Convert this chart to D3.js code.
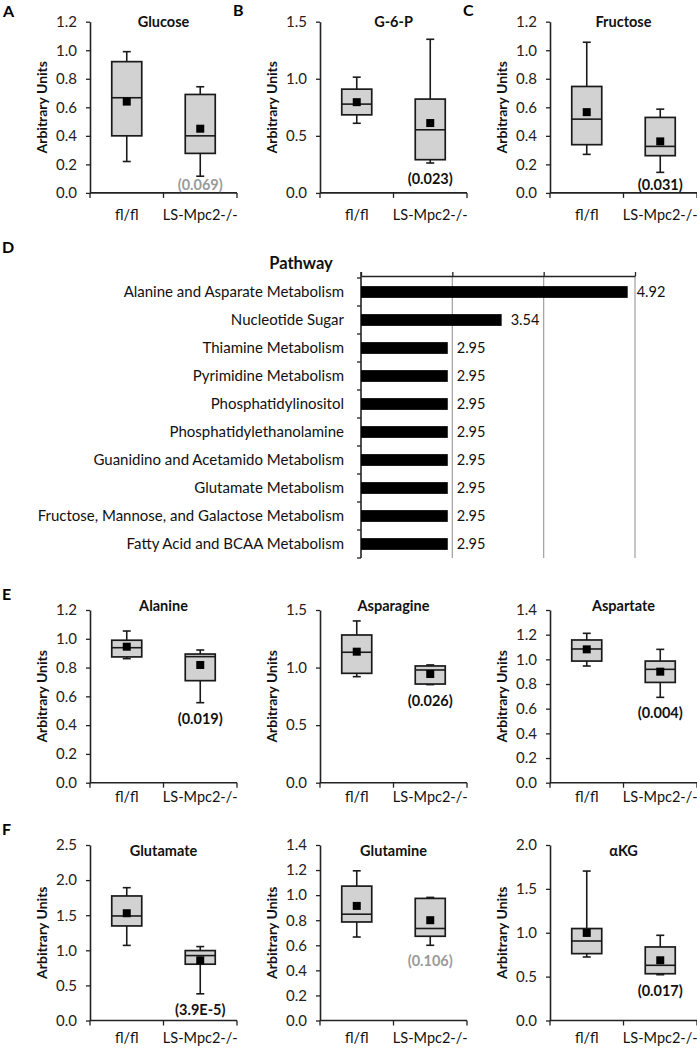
<!DOCTYPE html>
<html>
<head>
<meta charset="utf-8">
<script src="https://cdn.jsdelivr.net/npm/d3@7/dist/d3.min.js"></script>
<style>
  html, body { margin: 0; padding: 0; background: #fff; }
  svg { display: block; font-family: Lato, "Open Sans", sans-serif; }
</style>
</head>
<body>
<svg id="chart" width="697" height="1050"></svg>
<script>
// ---------- DATA ----------
const groups = ["fl/fl", "LS-Mpc2-/-"];
const metabolites = ["Glucose", "G-6-P", "Fructose", "Alanine", "Asparagine", "Aspartate", "Glutamate", "Glutamine", "\u03B1KG"];
const yMaxes = [1.2, 1.5, 1.2, 1.2, 1.5, 1.4, 2.5, 1.4, 2.0];
const ySteps = [0.2, 0.5, 0.2, 0.2, 0.5, 0.2, 0.5, 0.2, 0.5];

// fl/fl box statistics
const flLow    = [0.22, 0.61, 0.27, 0.862, 0.921, 0.946, 1.07, 0.666, 0.724];
const flQ1     = [0.40, 0.684, 0.338, 0.874, 0.95, 0.986, 1.347, 0.786, 0.762];
const flMedian = [0.667, 0.778, 0.517, 0.938, 1.133, 1.084, 1.489, 0.848, 0.906];
const flQ3     = [0.92, 0.909, 0.746, 0.99, 1.283, 1.157, 1.774, 1.072, 1.048];
const flHigh   = [0.99, 1.014, 1.056, 1.054, 1.405, 1.211, 1.892, 1.194, 1.703];
const flMean   = [0.64, 0.795, 0.566, 0.945, 1.138, 1.081, 1.528, 0.914, 0.998];

// LS-Mpc2-/- box statistics
const lsLow    = [0.117, 0.262, 0.144, 0.556, 0.852, 0.692, 0.38, 0.60, 0.522];
const lsQ1     = [0.277, 0.291, 0.261, 0.709, 0.857, 0.813, 0.802, 0.672, 0.533];
const lsMedian = [0.40, 0.553, 0.326, 0.876, 0.979, 0.919, 0.925, 0.734, 0.629];
const lsQ3     = [0.69, 0.822, 0.529, 0.894, 1.014, 0.986, 0.996, 0.974, 0.838];
const lsHigh   = [0.744, 1.346, 0.587, 0.922, 1.023, 1.081, 1.053, 0.982, 0.971];
const lsMean   = [0.45, 0.612, 0.361, 0.818, 0.944, 0.90, 0.857, 0.80, 0.686];

const pLabels = ["(0.069)", "(0.023)", "(0.031)", "(0.019)", "(0.026)", "(0.004)", "(3.9E-5)", "(0.106)", "(0.017)"];
const pSignificant = [false, true, true, true, true, true, true, false, true];

const panelLetters = ["A", "B", "C", "D", "E", "F"];

const pathways = [
  "Alanine and Asparate Metabolism",
  "Nucleotide Sugar",
  "Thiamine Metabolism",
  "Pyrimidine Metabolism",
  "Phosphatidylinositol",
  "Phosphatidylethanolamine",
  "Guanidino and Acetamido Metabolism",
  "Glutamate Metabolism",
  "Fructose, Mannose, and Galactose Metabolism",
  "Fatty Acid and BCAA Metabolism"
];
const pathwayScores = [4.92, 3.54, 2.95, 2.95, 2.95, 2.95, 2.95, 2.95, 2.95, 2.95];
const pathwayTicks = [2, 3, 4, 5];

// ---------- LAYOUT ----------
const svg = d3.select("#chart");
const textColor = "#111";
const colOffsets = [0, 230, 460];
const rowTop = [21.7, 610, 845];
const rowBottom = [192.9, 782.7, 1020.5];
const titleDy = [5, 1, 11];
const catLabelDy = [27, 19, 22];

metabolites.forEach((name, i) => {
  const col = i % 3, row = Math.floor(i / 3);
  const ox = colOffsets[col];
  const g = svg.append("g");
  const x = d3.scaleBand().domain(groups).range([ox + 90, ox + 237]);
  const y = d3.scaleLinear().domain([0, yMaxes[i]]).range([rowBottom[row], rowTop[row]]);
  const ticks = d3.range(0, yMaxes[i] + 1e-9, ySteps[i]);

  // y axis
  const ya = g.append("g").attr("transform", `translate(${ox + 90},0)`)
    .call(d3.axisLeft(y).tickValues(ticks).tickFormat(d3.format(".1f")).tickSize(4).tickPadding(9).tickSizeOuter(0));
  ya.select(".domain").attr("stroke", "#222").attr("stroke-width", 1.6);
  ya.selectAll(".tick line").attr("stroke", "#222").attr("stroke-width", 1.3);
  ya.selectAll(".tick text").attr("font-size", 15).attr("fill", "#222").attr("font-family", "Lato");

  // x axis
  const xb = rowBottom[row];
  g.append("line").attr("x1", x.range()[0]).attr("x2", x.range()[1]).attr("y1", xb).attr("y2", xb)
    .attr("stroke", "#222").attr("stroke-width", 1.6);
  const boundaries = [x.range()[0], x(groups[1]), x.range()[1]];
  g.selectAll(".xt").data(boundaries).join("line")
    .attr("x1", d => d).attr("x2", d => d).attr("y1", xb).attr("y2", xb + 5)
    .attr("stroke", "#222").attr("stroke-width", 1.3);
  g.selectAll(".xl").data(groups).join("text")
    .attr("x", d => x(d) + x.bandwidth() / 2).attr("y", xb + catLabelDy[row])
    .attr("text-anchor", "middle").attr("font-size", 14.5).attr("fill", textColor).text(d => d);

  // y label
  const midY = (rowTop[row] + rowBottom[row]) / 2;
  g.append("text").attr("transform", `translate(${ox + 42},${midY}) rotate(-90)`)
    .attr("text-anchor", "middle").attr("dy", "0.35em").attr("font-size", 14).attr("font-weight", "bold")
    .attr("fill", textColor).text("Arbitrary Units");

  // title
  g.append("text").attr("x", ox + 163.5).attr("y", rowTop[row] + titleDy[row])
    .attr("text-anchor", "middle").attr("font-size", 14.5).attr("font-weight", "bold")
    .attr("fill", textColor).text(name);

  // boxes
  const stats = [
    { grp: groups[0], lo: flLow[i], q1: flQ1[i], med: flMedian[i], q3: flQ3[i], hi: flHigh[i], mean: flMean[i] },
    { grp: groups[1], lo: lsLow[i], q1: lsQ1[i], med: lsMedian[i], q3: lsQ3[i], hi: lsHigh[i], mean: lsMean[i] }
  ];
  const bw = 30, cap = 8, ms = 8;
  stats.forEach(s => {
    const cx = x(s.grp) + x.bandwidth() / 2;
    const stroke = "#1a1a1a";
    g.append("line").attr("x1", cx).attr("x2", cx).attr("y1", y(s.hi)).attr("y2", y(s.q3)).attr("stroke", stroke).attr("stroke-width", 1.6);
    g.append("line").attr("x1", cx).attr("x2", cx).attr("y1", y(s.q1)).attr("y2", y(s.lo)).attr("stroke", stroke).attr("stroke-width", 1.6);
    g.append("line").attr("x1", cx - cap / 2).attr("x2", cx + cap / 2).attr("y1", y(s.hi)).attr("y2", y(s.hi)).attr("stroke", stroke).attr("stroke-width", 1.6);
    g.append("line").attr("x1", cx - cap / 2).attr("x2", cx + cap / 2).attr("y1", y(s.lo)).attr("y2", y(s.lo)).attr("stroke", stroke).attr("stroke-width", 1.6);
    g.append("rect").attr("x", cx - bw / 2).attr("width", bw).attr("y", y(s.q3)).attr("height", y(s.q1) - y(s.q3))
      .attr("fill", "#d2d2d2").attr("stroke", stroke).attr("stroke-width", 1.7);
    g.append("line").attr("x1", cx - bw / 2).attr("x2", cx + bw / 2).attr("y1", y(s.med)).attr("y2", y(s.med))
      .attr("stroke", stroke).attr("stroke-width", 1.6);
    g.append("rect").attr("x", cx - ms / 2).attr("y", y(s.mean) - ms / 2).attr("width", ms).attr("height", ms).attr("fill", "#000");
  });

  // p value
  const cxLS = x(groups[1]) + x.bandwidth() / 2;
  const py = Math.min(y(lsLow[i]) + 16, rowBottom[row] - 8);
  g.append("text").attr("x", cxLS).attr("y", py).attr("dy", "0.35em")
    .attr("text-anchor", "middle").attr("font-size", 14.5).attr("font-weight", "bold")
    .attr("fill", pSignificant[i] ? textColor : "#9a9a9a").text(pLabels[i]);
});

// panel letters
const letterPos = [[3, 17], [233, 16], [463, 16], [2, 253], [2, 600], [2, 835]];
panelLetters.forEach((L, k) => {
  svg.append("text").attr("x", letterPos[k][0]).attr("y", letterPos[k][1])
    .attr("font-size", 16).attr("font-weight", "bold").attr("fill", "#000").text(L);
});

// ---------- PANEL D ----------
const gd = svg.append("g");
const dTop = 276, dBottom = 558;
const xd = d3.scaleLinear().domain([2, 5]).range([361, 635]);
const yd = d3.scaleBand().domain(pathways).range([dTop + 2, dBottom]).paddingInner(0.58).paddingOuter(0.29);
const yb = d3.scaleBand().domain(pathways).range([dTop + 2, dBottom]);

gd.selectAll(".grid").data(pathwayTicks.slice(1)).join("line")
  .attr("x1", d => xd(d)).attr("x2", d => xd(d)).attr("y1", dTop).attr("y2", dBottom)
  .attr("stroke", "#a0a0a0").attr("stroke-width", 1.2);

const ta = gd.append("g").attr("transform", `translate(0,${dTop})`)
  .call(d3.axisTop(xd).tickValues(pathwayTicks).tickFormat("").tickSize(4).tickSizeOuter(0));
ta.select(".domain").attr("stroke", "#222").attr("stroke-width", 1.6);
ta.selectAll(".tick line").attr("stroke", "#222").attr("stroke-width", 1.3);

gd.append("line").attr("x1", xd(2)).attr("x2", xd(2)).attr("y1", dTop - 4).attr("y2", dBottom)
  .attr("stroke", "#222").attr("stroke-width", 1.6);
const bounds = pathways.map(p => yb(p) + yb.bandwidth()).concat([yb(pathways[0])]);
gd.selectAll(".ytk").data(bounds).join("line")
  .attr("x1", xd(2) - 4).attr("x2", xd(2)).attr("y1", d => d).attr("y2", d => d)
  .attr("stroke", "#222").attr("stroke-width", 1.3);

gd.selectAll(".bar").data(pathways).join("rect")
  .attr("x", xd(2)).attr("y", d => yd(d)).attr("height", yd.bandwidth())
  .attr("width", (d, k) => xd(pathwayScores[k]) - xd(2)).attr("fill", "#000");

gd.selectAll(".plab").data(pathways).join("text")
  .attr("x", xd(2) - 17).attr("y", d => yb(d) + yb.bandwidth() / 2).attr("dy", "0.35em")
  .attr("text-anchor", "end").attr("font-size", 15).attr("fill", textColor).text(d => d);

gd.selectAll(".vlab").data(pathways).join("text")
  .attr("x", (d, k) => xd(pathwayScores[k]) + 9).attr("y", d => yb(d) + yb.bandwidth() / 2).attr("dy", "0.35em")
  .attr("font-size", 14.5).attr("fill", textColor).text((d, k) => pathwayScores[k].toFixed(2));

gd.append("text").attr("x", 301).attr("y", 269).attr("text-anchor", "middle")
  .attr("font-size", 16.5).attr("font-weight", "bold").attr("fill", textColor).text("Pathway");
</script>
</body>
</html>
